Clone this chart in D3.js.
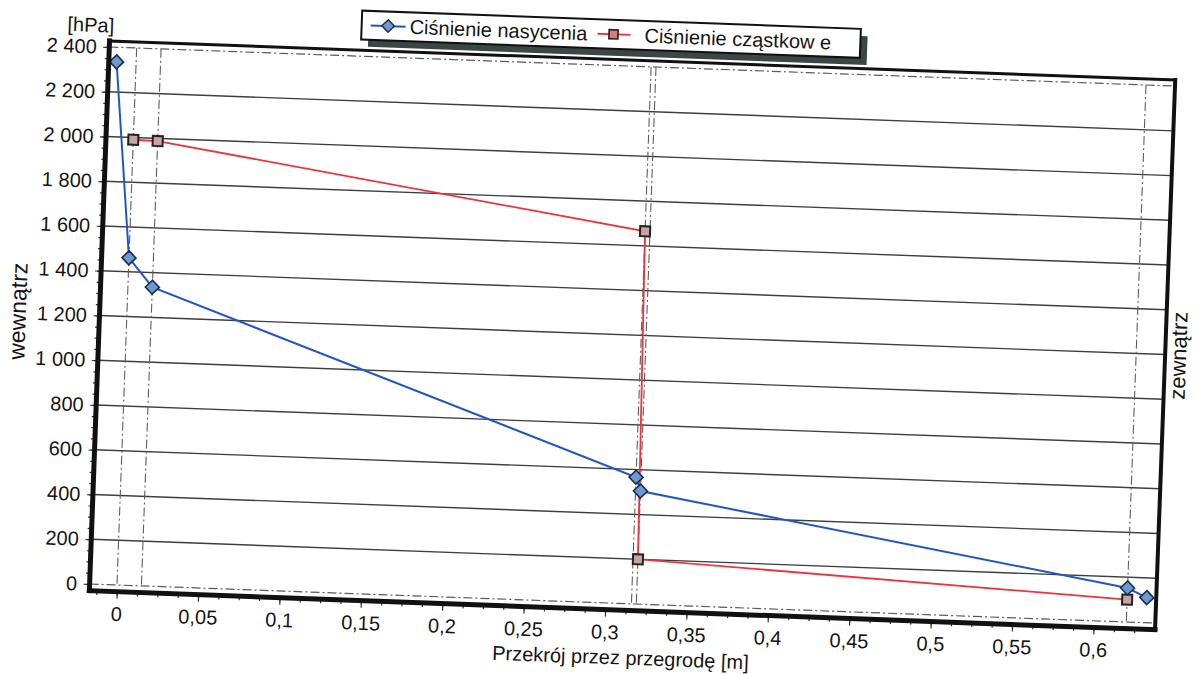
<!DOCTYPE html>
<html>
<head>
<meta charset="utf-8">
<script src="https://cdn.jsdelivr.net/npm/d3@7"></script>
<style>
  html, body { margin: 0; padding: 0; background: #fff; }
  svg { display: block; }
  text { font-family: "Liberation Sans", Arial, sans-serif; fill: #151515; }
</style>
</head>
<body>
<svg id="chart" width="1195" height="674"></svg>
<script>
// Saturation vapour pressure through the wall section [m] -> [hPa]
const saturationX = [-0.012, 0, 0.015, 0.316, 0.319, 0.62, 0.632];
const saturationP = [2335, 1462, 1335, 566, 505, 152, 112];

// Partial vapour pressure at the layer interfaces
const partialX = [0, 0.015, 0.316, 0.319, 0.62];
const partialP = [1990, 1988, 1665, 200, 100];

// Layer boundaries inside the partition
const layerBounds = [0, 0.015, 0.316, 0.319, 0.62];

// Axis ticks and their labels
const xTicks = [0, 0.05, 0.1, 0.15, 0.2, 0.25, 0.3, 0.35, 0.4, 0.45, 0.5, 0.55, 0.6];
const xTickLabels = ["0", "0,05", "0,1", "0,15", "0,2", "0,25", "0,3", "0,35", "0,4", "0,45", "0,5", "0,55", "0,6"];
const yTicks = [0, 200, 400, 600, 800, 1000, 1200, 1400, 1600, 1800, 2000, 2200, 2400];
const yTickLabels = ["0", "200", "400", "600", "800", "1 000", "1 200", "1 400", "1 600", "1 800", "2 000", "2 200", "2 400"];

const seriesNames = ["Ciśnienie nasycenia", "Ciśnienie cząstkow e"];

const svg = d3.select("#chart");
svg.append("rect").attr("width", 1195).attr("height", 674).attr("fill", "#fff");

// the printed sheet sits slightly skewed
const g = svg.append("g").attr("transform", "rotate(2.1,117,585)");

const plot = { left: 89.6, right: 1156, top: 41.6, bottom: 591.7 };

const x = d3.scaleLinear().domain([-0.0168, 0.6378]).range([plot.left, plot.right]);
const y = d3.scaleLinear().domain([-30, 2427]).range([plot.bottom, plot.top]);

g.append("rect")
  .attr("x", plot.left).attr("y", plot.top)
  .attr("width", plot.right - plot.left).attr("height", plot.bottom - plot.top)
  .attr("fill", "#fff");

// horizontal grid
g.append("g").selectAll("line")
  .data(yTicks)
  .join("line")
  .attr("x1", plot.left).attr("x2", plot.right)
  .attr("y1", d => y(d)).attr("y2", d => y(d))
  .attr("stroke", d => (d === 0 || d === 2400) ? "#5a5a5a" : "#3e3e3e")
  .attr("stroke-width", d => (d === 0 || d === 2400) ? 1.2 : 1.4)
  .attr("stroke-dasharray", d => (d === 0 || d === 2400) ? "9,3,2,3" : null);

// layer boundary lines
g.append("g").selectAll("line")
  .data(layerBounds)
  .join("line")
  .attr("x1", d => x(d)).attr("x2", d => x(d))
  .attr("y1", y(2400)).attr("y2", y(0))
  .attr("stroke", "#5e5e5e")
  .attr("stroke-width", 1.1)
  .attr("stroke-dasharray", "9,3,2,3");

// axes
const xAxis = d3.axisBottom(x).tickValues(xTicks)
  .tickFormat((d, i) => xTickLabels[i]).tickSize(7).tickPadding(8);
const xMinor = d3.axisBottom(x).tickValues(d3.range(-0.0125, 0.63, 0.0125))
  .tickFormat("").tickSize(4);
const yAxis = d3.axisLeft(y).tickValues(yTicks)
  .tickFormat((d, i) => yTickLabels[i]).tickSize(6).tickPadding(6.5);
const yMinor = d3.axisLeft(y).tickValues(d3.range(0, 2401, 50))
  .tickFormat("").tickSize(4);

function styleAxis(sel) {
  sel.select(".domain").remove();
  sel.selectAll(".tick line").attr("stroke", "#333").attr("stroke-width", 1.2);
  sel.selectAll(".tick text").attr("font-size", 20).attr("fill", "#151515")
    .style("font-family", "'Liberation Sans', Arial, sans-serif");
}
g.append("g").attr("transform", `translate(0,${plot.bottom})`).call(xMinor).call(styleAxis);
g.append("g").attr("transform", `translate(0,${plot.bottom})`).call(xAxis).call(styleAxis);
g.append("g").attr("transform", `translate(${plot.left},0)`).call(yMinor).call(styleAxis);
g.append("g").attr("transform", `translate(${plot.left},0)`).call(yAxis).call(styleAxis);

// series
const satData = saturationX.map((d, i) => [d, saturationP[i]]);
const parData = partialX.map((d, i) => [d, partialP[i]]);
const line = d3.line().x(d => x(d[0])).y(d => y(d[1]));

g.append("path").datum(parData).attr("d", line)
  .attr("fill", "none").attr("stroke", "#f0323c").attr("stroke-width", 1.8);
g.append("path").datum(satData).attr("d", line)
  .attr("fill", "none").attr("stroke", "#2455c4").attr("stroke-width", 2);

g.append("g").selectAll("rect")
  .data(parData)
  .join("rect")
  .attr("x", d => x(d[0]) - 5).attr("y", d => y(d[1]) - 5)
  .attr("width", 10).attr("height", 10)
  .attr("fill", "#c9a3a3").attr("stroke", "#222").attr("stroke-width", 2);

const diamond = "M0,-7L7,0L0,7L-7,0Z";
g.append("g").selectAll("path")
  .data(satData)
  .join("path")
  .attr("d", diamond)
  .attr("transform", d => `translate(${x(d[0])},${y(d[1])})`)
  .attr("fill", "#6c98d4").attr("stroke", "#1c2c46").attr("stroke-width", 1.6);

// frame of the plot area
const frame = g.append("g").attr("stroke", "#111").attr("stroke-linecap", "square");
frame.append("line").attr("x1", plot.left).attr("x2", plot.right).attr("y1", plot.top).attr("y2", plot.top).attr("stroke-width", 3);
frame.append("line").attr("x1", plot.left).attr("x2", plot.left).attr("y1", plot.top).attr("y2", plot.bottom).attr("stroke-width", 5);
frame.append("line").attr("x1", plot.right).attr("x2", plot.right).attr("y1", plot.top).attr("y2", plot.bottom).attr("stroke-width", 4);
frame.append("line").attr("x1", plot.left).attr("x2", plot.right).attr("y1", plot.bottom).attr("y2", plot.bottom).attr("stroke-width", 5);

// axis titles
g.append("text").attr("x", 47).attr("y", 33).attr("font-size", 20).text("[hPa]");
g.append("text").attr("x", (plot.left + plot.right) / 2).attr("y", 646)
  .attr("text-anchor", "middle").attr("font-size", 20).text("Przekrój przez przegrodę [m]");
g.append("text").attr("transform", "translate(16,315) rotate(-90)")
  .attr("text-anchor", "middle").attr("font-size", 23).text("wewnątrz");
g.append("text").attr("transform", "translate(1177,317) rotate(-90)")
  .attr("text-anchor", "middle").attr("font-size", 22).text("zewnątrz");

// legend
const lg = g.append("g");
const box = { x: 341, y: 2, w: 499, h: 29 };
lg.append("rect").attr("x", box.x + 7).attr("y", box.y + 7).attr("width", box.w).attr("height", box.h).attr("fill", "#3b4744");
lg.append("rect").attr("x", box.x).attr("y", box.y).attr("width", box.w).attr("height", box.h)
  .attr("fill", "#fff").attr("stroke", "#111").attr("stroke-width", 2);
const cy = box.y + box.h / 2;
lg.append("line").attr("x1", 350).attr("x2", 385).attr("y1", cy).attr("y2", cy).attr("stroke", "#2455c4").attr("stroke-width", 2);
lg.append("path").attr("d", diamond).attr("transform", `translate(367.5,${cy}) scale(0.9)`)
  .attr("fill", "#6c98d4").attr("stroke", "#1c2c46").attr("stroke-width", 1.6);
lg.append("text").attr("x", 389).attr("y", cy + 7).attr("font-size", 20).text(seriesNames[0]);
lg.append("line").attr("x1", 577).attr("x2", 610).attr("y1", cy).attr("y2", cy).attr("stroke", "#f0323c").attr("stroke-width", 1.8);
lg.append("rect").attr("x", 588.5).attr("y", cy - 4.5).attr("width", 9).attr("height", 9)
  .attr("fill", "#e07878").attr("stroke", "#222").attr("stroke-width", 1.6);
lg.append("text").attr("x", 624).attr("y", cy + 7).attr("font-size", 20).text(seriesNames[1]);
</script>
</body>
</html>
